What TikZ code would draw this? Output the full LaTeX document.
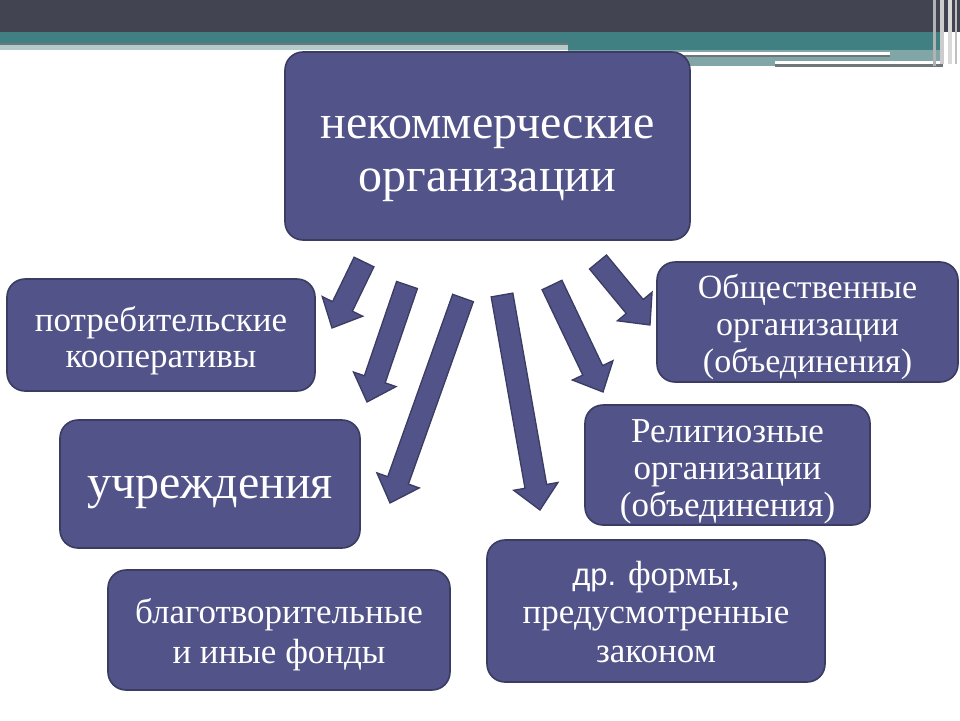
\documentclass[tikz,border=0pt]{standalone}
\usepackage{fontspec}
\setmainfont{Liberation Serif}
\newfontfamily\sansf{Liberation Sans}
\usetikzlibrary{calc}
\definecolor{boxfill}{RGB}{82,83,137}
\definecolor{boxline}{RGB}{58,60,98}
\definecolor{topdark}{RGB}{67,68,82}
\definecolor{teal1}{RGB}{64,128,130}
\definecolor{teal2}{RGB}{128,166,168}
\definecolor{greyline}{RGB}{110,118,120}
\tikzset{
  box/.style={draw=boxline, line width=1.6pt, fill=boxfill, rounded corners=18pt, inner sep=0pt},
  boxtext/.style={text=white, align=center, inner sep=0pt},
  arrowfill/.style={draw=boxline, line width=1.3pt, fill=boxfill, line join=miter},
}
% block arrow from tail coordinate #1 to tip coordinate #2
\newcommand\blockarr[2]{%
  \path[arrowfill] let \p1=($(#2)-(#1)$), \n1={atan2(\y1,\x1)}, \n2={veclen(\x1,\y1)} in
    [shift={(#1)}, rotate=\n1]
    (0pt,-11pt) -- ({\n2*1pt-24pt},-11pt) -- ({\n2*1pt-24pt},-22.5pt) -- ({\n2*1pt},0pt)
    -- ({\n2*1pt-24pt},22.5pt) -- ({\n2*1pt-24pt},11pt) -- (0pt,11pt) -- cycle;
}
\begin{document}
\begin{tikzpicture}[x=1pt,y=-1pt]
\useasboundingbox (0,0) rectangle (960,720);
\fill[white] (0,0) rectangle (960,720);
% header band
\fill[topdark] (0,0) rectangle (960,32);
\fill[teal1] (0,32) rectangle (568,43);
\fill[greyline] (0,43) rectangle (568,45);
\fill[teal2!60!white] (0,45) rectangle (568,50);
\fill[teal1] (568,32) rectangle (940,50);
\fill[teal2] (568,50) rectangle (940,66);
\fill[white] (568,52) rectangle (890,55);
\fill[greyline] (568,55) rectangle (890,57);
\fill[white] (775,61) rectangle (943,64);
\fill[greyline] (775,64) rectangle (943,67);
\fill[gray!60] (933,0) rectangle (936,66);
\fill[gray!40] (940,0) rectangle (944,64);
\fill[gray!30] (948,0) rectangle (952,64);
\fill[gray!50] (955,0) rectangle (957,64);

% boxes
\node[box, minimum width=405pt, minimum height=188pt] (noa) at (487.5,146) {};
\node[box, minimum width=308pt, minimum height=112pt] (pk) at (161,335) {};
\node[box, minimum width=301pt, minimum height=120pt] (oo) at (807.5,322) {};
\node[box, minimum width=300pt, minimum height=128pt] (uch) at (210,484) {};
\node[box, minimum width=285pt, minimum height=120pt] (ro) at (727.5,465) {};
\node[box, minimum width=342pt, minimum height=120pt] (bf) at (279,630) {};
\node[box, minimum width=338pt, minimum height=142pt] (dr) at (656,611) {};
% texts
\node[boxtext, font=\fontsize{48}{53}\selectfont] (noat) at ($(noa.center)+(0,13)$) {некоммерческие\\организации};
\node[boxtext, font=\fontsize{35}{36}\selectfont] (pkt) at ($(pk.center)+(0,6)$) {потребительские\\кооперативы};
\node[boxtext, font=\fontsize{34}{37}\selectfont] (oot) at ($(oo.center)+(0,5)$) {Общественные\\организации\\(объединения)};
\node[boxtext, font=\fontsize{48}{53}\selectfont] (ucht) at ($(uch.center)+(0,8)$) {учреждения};
\node[boxtext, font=\fontsize{35}{37}\selectfont] (rot) at ($(ro.center)+(0,7)$) {Религиозные\\организации\\(объединения)};
\node[boxtext, font=\fontsize{35}{40}\selectfont] (bft) at ($(bf.center)+(0,5)$) {благотворительные\\и иные фонды};
\node[boxtext, font=\fontsize{35}{38.5}\selectfont] (drt) at ($(dr.center)+(0,1)$) {{\sansf\fontsize{31}{38.5}\selectfont др.} формы,\\предусмотренные\\законом};

% arrow end points
\coordinate (t1) at (364,262); \coordinate (h1) at (332,328);
\coordinate (t2) at (407,285); \coordinate (h2) at (367,402);
\coordinate (t3) at (463,298); \coordinate (h3) at (390,503);
\coordinate (t4) at (502,295); \coordinate (h4) at (540,510);
\coordinate (t5) at (552,285); \coordinate (h5) at (603,392);
\coordinate (t6) at (598,262); \coordinate (h6) at (650,325);
\blockarr{t1}{h1}
\blockarr{t2}{h2}
\blockarr{t3}{h3}
\blockarr{t4}{h4}
\blockarr{t5}{h5}
\blockarr{t6}{h6}
\end{tikzpicture}
\end{document}
